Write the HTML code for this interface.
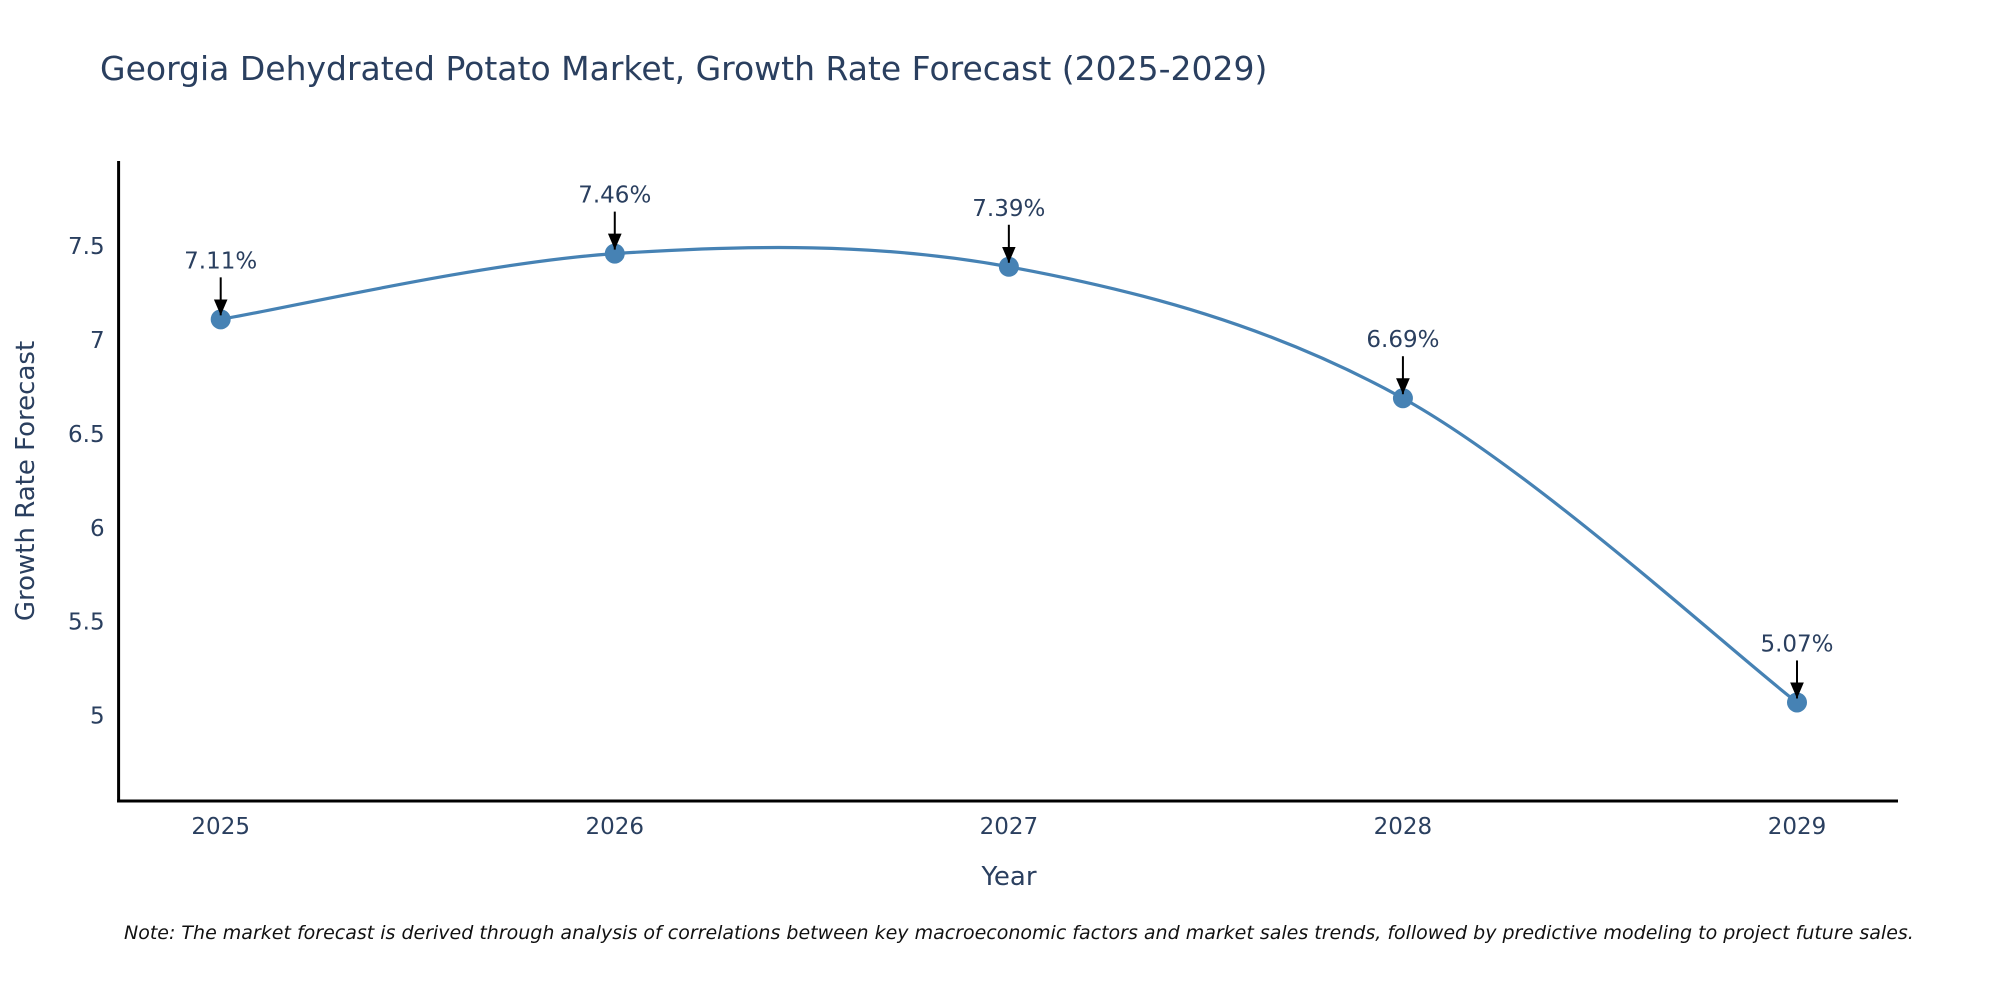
<!DOCTYPE html>
<html><head><meta charset="utf-8"><style>
body{margin:0;background:#fff;}
svg{display:block;font-family:"DejaVu Sans",sans-serif;}
</style></head><body>
<svg id="chart" width="2000" height="1000" viewBox="0 0 2000 1000">
<defs>
<marker id="arrowhead" viewBox="0 0 12 14" refX="6" refY="14" markerWidth="14" markerHeight="16" orient="0" markerUnits="userSpaceOnUse"><path d="M0,0 L12,0 L6,14 z" fill="#000"/></marker></defs>
<text x="100" y="80" font-size="33" fill="#2a3f5f">Georgia Dehydrated Potato Market, Growth Rate Forecast (2025-2029)</text>
<g id="plot"></g>
<text transform="translate(34,481) rotate(-90)" text-anchor="middle" font-size="26" fill="#2a3f5f">Growth Rate Forecast</text>
<text x="1009" y="885" text-anchor="middle" font-size="26" fill="#2a3f5f">Year</text>
<text x="124" y="939" font-size="19" font-style="italic" fill="#111">Note: The market forecast is derived through analysis of correlations between key macroeconomic factors and market sales trends, followed by predictive modeling to project future sales.</text>
</svg>
<script>
const years = [2025, 2026, 2027, 2028, 2029];
const growth = [7.11, 7.46, 7.39, 6.69, 5.07];
const yTicks = [5, 5.5, 6, 6.5, 7, 7.5];
const yTickLabels = ["5", "5.5", "6", "6.5", "7", "7.5"];

const NS = "http://www.w3.org/2000/svg";
const g = document.getElementById('plot');
const L = 118.6, R = 1898, T = 161, B = 801;
const x = v => 220.7 + (v - 2025) * (1797 - 220.7) / 4;
const y = v => 715.6 - (v - 5) * 187.8;
function mk(tag, attrs){const e=document.createElementNS(NS,tag);for(const k in attrs)e.setAttribute(k,attrs[k]);g.appendChild(e);return e;}

let ax = mk('line',{x1:L,y1:T,x2:L,y2:B+1.5,stroke:'#000','stroke-width':3});


ax = mk('line',{x1:L-1.5,y1:B,x2:R,y2:B,stroke:'#000','stroke-width':3});



yTicks.forEach((v,i)=>{
  const t = mk('text',{x:L-14,y:y(v)+8,'text-anchor':'end','font-size':23,fill:'#2a3f5f'});
  t.textContent = yTickLabels[i];
  
  
});
years.forEach(v=>{
  const t = mk('text',{x:x(v),y:834,'text-anchor':'middle','font-size':23,fill:'#2a3f5f'});
  t.textContent = String(v);
  
  
});

const pts = years.map((yr,i)=>[x(yr), y(growth[i])]);
let d = `M${pts[0][0]},${pts[0][1]}`;
const k = 1/6;
for(let i=0;i<pts.length-1;i++){
  const p0 = pts[Math.max(i-1,0)], p1 = pts[i], p2 = pts[i+1], p3 = pts[Math.min(i+2,pts.length-1)];
  const c1 = [p1[0]+(p2[0]-p0[0])*k, p1[1]+(p2[1]-p0[1])*k];
  const c2 = [p2[0]-(p3[0]-p1[0])*k, p2[1]-(p3[1]-p1[1])*k];
  d += ` C${c1[0]},${c1[1]} ${c2[0]},${c2[1]} ${p2[0]},${p2[1]}`;
}
const line = mk('path',{d:d,fill:'none',stroke:'#4682b4','stroke-width':3.2});



pts.forEach((p,i)=>{
  const c = mk('circle',{cx:p[0],cy:p[1],r:10,fill:'#4682b4'});
  
  
  const a = mk('line',{x1:p[0],y1:p[1]-42,x2:p[0],y2:p[1]-4,stroke:'#000','stroke-width':2,'marker-end':'url(#arrowhead)'});
  
  
  const t = mk('text',{x:p[0],y:p[1]-51,'text-anchor':'middle','font-size':23,fill:'#2a3f5f'});
  t.textContent = growth[i].toFixed(2)+'%';
  
  
});
</script>
</body></html>
